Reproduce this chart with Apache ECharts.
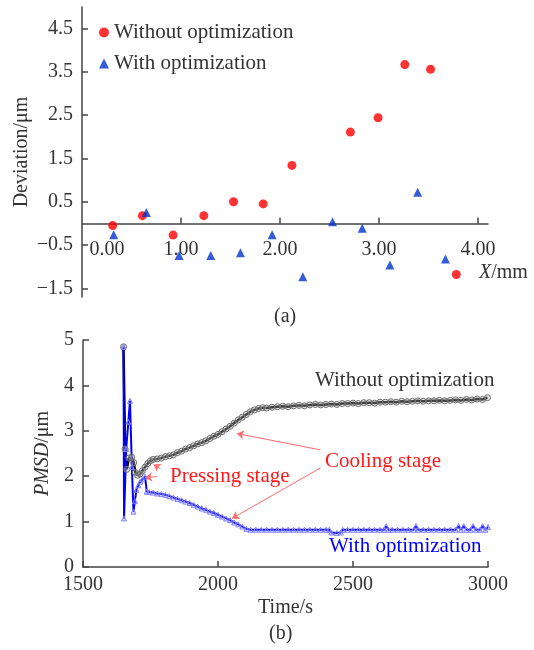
<!DOCTYPE html>
<html>
<head>
<meta charset="utf-8">
<script src="https://cdn.jsdelivr.net/npm/echarts@6/dist/echarts.min.js"></script>
<style>
  html, body { margin: 0; padding: 0; background: #fff; }
  #chart { width: 534px; height: 650px; }
</style>
</head>
<body>
<div id="chart"></div>
<script>
const FONT = '"Liberation Serif", "Times New Roman", serif';
const TEXT_COLOR = '#333';
const AXIS_COLOR = '#444';
const RED = '#ff1a1a';
const BLUE = '#0000ff';

// (a) deviation along X
const posWithout = [0.31, 0.61, 0.92, 1.23, 1.53, 1.83, 2.12, 2.71, 2.99, 3.26, 3.52, 3.78];
const devWithout = [-0.05, 0.18, -0.27, 0.18, 0.50, 0.45, 1.34, 2.11, 2.44, 3.67, 3.56, -1.18];
const posWith = [0.32, 0.65, 0.98, 1.30, 1.60, 1.92, 2.23, 2.53, 2.83, 3.11, 3.39, 3.67];
const devWith = [-0.26, 0.25, -0.74, -0.74, -0.68, -0.26, -1.23, 0.04, -0.11, -0.96, 0.72, -0.82];
const devTicks = [-1.5, -0.5, 0.5, 1.5, 2.5, 3.5, 4.5];
const posTicks = [0, 1, 2, 3, 4];

// (b) PMSD over time
const timeWithout = [1650, 1656, 1662, 1670, 1680, 1688, 1694, 1702, 1712, 1720, 1730, 1740, 1750, 1760,
  1775, 1790, 1805, 1820, 1835, 1850, 1865, 1880, 1895, 1910, 1925, 1940, 1955, 1970, 1985, 2000,
  2015, 2030, 2045, 2060, 2075, 2090, 2105, 2120, 2135, 2150, 2165, 2180, 2200, 2220, 2240, 2260,
  2280, 2300, 2320, 2340, 2360, 2380, 2400, 2420, 2440, 2460, 2480, 2500, 2520, 2540, 2560, 2580,
  2600, 2620, 2640, 2660, 2680, 2700, 2720, 2740, 2760, 2780, 2800, 2820, 2840, 2860, 2880, 2900,
  2920, 2940, 2960, 2980, 2998];
const pmsdWithout = [4.85, 2.60, 2.15, 2.40, 2.42, 2.30, 2.08, 2.02, 2.05, 2.12, 2.20, 2.28, 2.34, 2.37,
  2.38, 2.40, 2.43, 2.45, 2.47, 2.52, 2.55, 2.60, 2.63, 2.67, 2.71, 2.74, 2.78, 2.83, 2.88, 2.92,
  2.98, 3.04, 3.10, 3.17, 3.24, 3.30, 3.36, 3.42, 3.46, 3.49, 3.51, 3.50, 3.52, 3.53, 3.54, 3.53,
  3.55, 3.56, 3.55, 3.57, 3.58, 3.57, 3.58, 3.59, 3.58, 3.60, 3.60, 3.61, 3.60, 3.62, 3.62, 3.61,
  3.63, 3.63, 3.64, 3.63, 3.65, 3.64, 3.65, 3.66, 3.65, 3.66, 3.66, 3.67, 3.66, 3.67, 3.68, 3.67,
  3.69, 3.68, 3.70, 3.69, 3.73];
const timeWith = [1650, 1652, 1660, 1668, 1674, 1681, 1687, 1692, 1698, 1705, 1712, 1720, 1730, 1736,
  1745, 1760, 1775, 1790, 1805, 1820, 1835, 1850, 1865, 1880, 1895, 1910, 1925, 1940, 1955, 1970,
  1985, 2000, 2015, 2030, 2045, 2060, 2075, 2090, 2105, 2120, 2140, 2160, 2180, 2200, 2220, 2240,
  2260, 2280, 2300, 2320, 2340, 2360, 2380, 2400, 2412, 2420, 2440, 2455, 2462, 2480, 2500, 2520,
  2540, 2560, 2580, 2600, 2615, 2623, 2631, 2645, 2665, 2685, 2705, 2725, 2733, 2741, 2760, 2780,
  2800, 2820, 2840, 2860, 2880, 2891, 2900, 2910, 2920, 2935, 2945, 2955, 2970, 2980, 2990, 3000];
const pmsdWith = [4.85, 1.07, 2.60, 3.20, 3.66, 2.20, 1.22, 1.45, 1.70, 1.80, 1.88, 1.93, 1.99, 1.66,
  1.65, 1.64, 1.62, 1.61, 1.59, 1.56, 1.53, 1.50, 1.47, 1.44, 1.41, 1.37, 1.33, 1.29, 1.26, 1.22,
  1.19, 1.15, 1.11, 1.07, 1.03, 0.98, 0.94, 0.89, 0.84, 0.82, 0.82, 0.82, 0.82, 0.82, 0.82, 0.82,
  0.82, 0.82, 0.82, 0.82, 0.82, 0.82, 0.82, 0.82, 0.82, 0.76, 0.75, 0.76, 0.82, 0.82, 0.82, 0.82,
  0.82, 0.82, 0.82, 0.82, 0.82, 0.90, 0.82, 0.82, 0.82, 0.82, 0.82, 0.82, 0.90, 0.82, 0.82, 0.82,
  0.82, 0.82, 0.82, 0.82, 0.82, 0.90, 0.82, 0.90, 0.82, 0.82, 0.90, 0.82, 0.82, 0.90, 0.82, 0.88];

// annotation arrows, [from, to] in (time, PMSD)
const coolingArrows = [[[2379, 2.58], [2070, 2.94]], [[2379, 2.18], [2052, 1.07]]];
const pressingArrows = [[[1786, 2.17], [1761, 2.26]], [[1773, 1.99], [1730, 1.97]]];

const pairs = (xs, ys) => xs.map((x, i) => [x, ys[i]]);
const txt = (size, color) => ({ fontFamily: FONT, fontSize: size, color: color || TEXT_COLOR });

const axisBase = {
  axisLine: { onZero: true, lineStyle: { color: AXIS_COLOR, width: 1.5 } },
  axisTick: { inside: true, length: 6, lineStyle: { color: AXIS_COLOR, width: 1.5 } },
  splitLine: { show: false },
  nameMoveOverlap: false,
};

const label = (text, x, y, size, color, rich) => ({
  type: 'text',
  x: x,
  y: y,
  silent: true,
  style: {
    text: text,
    fill: color || TEXT_COLOR,
    font: size + 'px ' + FONT,
    verticalAlign: 'middle',
    align: 'left',
    rich: rich,
  },
});

const arrowLines = (list) => list.map((a) => [{ coord: a[0] }, { coord: a[1] }]);

const chart = echarts.init(document.getElementById('chart'));

chart.setOption({
  animation: false,
  backgroundColor: '#fff',
  grid: [
    { left: 82, top: 7, width: 406, height: 290 },
    { left: 83, top: 340, width: 405, height: 227 },
  ],
  legend: {
    data: ['Without optimization', 'With optimization'],
    orient: 'vertical',
    left: 99,
    top: 22,
    padding: 0,
    itemWidth: 10,
    itemHeight: 10,
    itemGap: 10,
    itemTextGap: 9,
    textStyle: txt(21),
    selectedMode: false,
  },
  xAxis: [
    {
      ...axisBase,
      gridIndex: 0,
      type: 'value',
      min: 0,
      max: 4.1,
      axisTick: { ...axisBase.axisTick, customValues: [1, 2, 3, 4] },
      axisLabel: {
        ...txt(20),
        // labels sit under the zero line, not under the grid bottom
        margin: -57,
        customValues: posTicks,
        formatter: (v) => (v === 0 ? '{z|0.00}' : v.toFixed(2)),
        rich: { z: { ...txt(20), padding: [0, 0, 0, 50] } },
      },
    },
    {
      ...axisBase,
      gridIndex: 1,
      type: 'value',
      min: 1500,
      max: 3000,
      interval: 500,
      name: 'Time/s',
      nameLocation: 'middle',
      nameGap: 31,
      nameTextStyle: txt(20),
      axisLabel: { ...txt(20), margin: 8, formatter: (v) => String(v) },
    },
  ],
  yAxis: [
    {
      ...axisBase,
      gridIndex: 0,
      type: 'value',
      min: -1.7,
      max: 5,
      axisTick: { ...axisBase.axisTick, customValues: devTicks },
      axisLabel: {
        ...txt(20),
        margin: 9,
        customValues: devTicks,
        formatter: (v) => (v < 0 ? '\u2212' : '') + Math.abs(v).toFixed(1),
      },
      name: 'Deviation/\u03bcm',
      nameLocation: 'middle',
      nameRotate: 90,
      nameGap: 50,
      nameTextStyle: txt(20),
    },
    {
      ...axisBase,
      gridIndex: 1,
      type: 'value',
      min: 0,
      max: 5,
      interval: 1,
      axisLabel: { ...txt(20), margin: 9 },
      name: '{i|PMSD}/\u03bcm',
      nameLocation: 'middle',
      nameRotate: 90,
      nameGap: 30,
      nameTextStyle: {
        ...txt(20),
        rich: { i: { ...txt(20), fontStyle: 'italic' } },
      },
    },
  ],
  series: [
    {
      name: 'Without optimization',
      type: 'scatter',
      xAxisIndex: 0,
      yAxisIndex: 0,
      symbol: 'circle',
      symbolSize: 9,
      itemStyle: { color: '#ff0000' },
      data: pairs(posWithout, devWithout),
    },
    {
      name: 'With optimization',
      type: 'scatter',
      xAxisIndex: 0,
      yAxisIndex: 0,
      symbol: 'triangle',
      symbolSize: 9,
      itemStyle: { color: '#0033cc' },
      data: pairs(posWith, devWith),
    },
    {
      name: 'PMSD without',
      type: 'line',
      xAxisIndex: 1,
      yAxisIndex: 1,
      symbol: 'circle',
      symbolSize: 6,
      lineStyle: { color: '#000', width: 2.5 },
      itemStyle: { color: 'rgba(190,190,190,0.35)', borderColor: '#6a6a6a', borderWidth: 1 },
      data: pairs(timeWithout, pmsdWithout),
      markLine: {
        silent: true,
        symbol: ['none', 'arrow'],
        symbolSize: 7,
        label: { show: false },
        lineStyle: { color: '#ff6a6a', width: 1, type: 'solid' },
        data: arrowLines(coolingArrows.concat(pressingArrows)),
      },
    },
    {
      name: 'PMSD with',
      type: 'line',
      xAxisIndex: 1,
      yAxisIndex: 1,
      symbol: 'triangle',
      symbolSize: 5,
      lineStyle: { color: BLUE, width: 2 },
      itemStyle: { color: 'rgba(120,120,255,0.25)', borderColor: '#8080ff', borderWidth: 1 },
      data: pairs(timeWith, pmsdWith),
    },
  ],
  graphic: [
    label('{i|X}/mm', 479, 273, 20, TEXT_COLOR, { i: { fontFamily: FONT, fontSize: 20, fontStyle: 'italic', fill: TEXT_COLOR } }),
    label('(a)', 274, 317, 20),
    label('Without optimization', 315, 380, 21),
    label('Cooling stage', 325, 461, 21, RED),
    label('Pressing stage', 170, 476, 21, RED),
    label('With optimization', 329, 546, 21, BLUE),
    label('(b)', 269, 634, 20),
  ],
});
</script>
</body>
</html>
